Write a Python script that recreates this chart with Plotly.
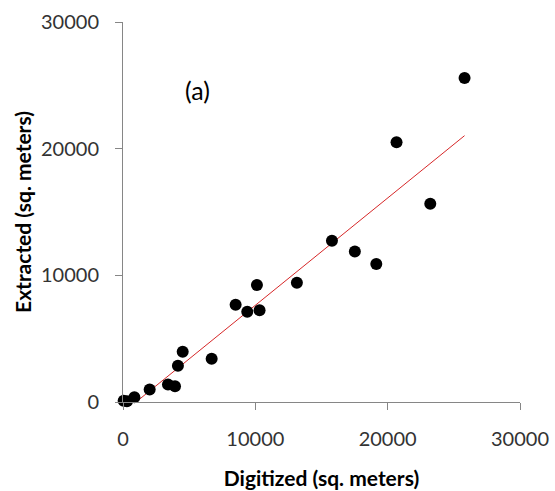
import numpy as np
import plotly.graph_objects as go

digitized = [50, 300, 860, 2015, 3400, 3930, 4150, 4510, 6700, 8510, 9390,
             10120, 10320, 13140, 15790, 17520, 19140, 20670, 23220, 25810]
extracted = [100, 50, 380, 990, 1380, 1250, 2860, 3970, 3410, 7680, 7120,
             9230, 7250, 9410, 12730, 11890, 10890, 20500, 15650, 25580]
tick_vals = [0, 10000, 20000, 30000]
tick_text = ["0", "10000", "20000", "30000"]

x = np.array(digitized, dtype=float)
y = np.array(extracted, dtype=float)
slope, intercept = np.polyfit(x, y, 1)
fx = np.array([x.min(), x.max()])
fy = slope * fx + intercept

font_family = "Lato, Carlito, 'Open Sans', sans-serif"
axis_color = "#868686"
text_color = "#333333"

fig = go.Figure()
fig.add_trace(go.Scatter(x=fx, y=fy, mode="lines",
                         line=dict(color="#d62728", width=1), hoverinfo="skip"))
fig.add_trace(go.Scatter(x=digitized, y=extracted, mode="markers",
                         marker=dict(color="black", size=12), cliponaxis=False))

fig.update_layout(
    width=555, height=491,
    margin=dict(l=123, r=35, t=22, b=89),
    plot_bgcolor="white", paper_bgcolor="white",
    showlegend=False,
    font=dict(family=font_family, size=20, color=text_color),
    annotations=[dict(x=5640, y=24600, xref="x", yref="y", text="(a)",
                      showarrow=False, font=dict(size=25, color="black"))],
)
fig.update_xaxes(range=[0, 30000], tickvals=tick_vals, ticktext=tick_text,
                 showgrid=False, zeroline=False, showline=True, automargin=False,
                 linecolor=axis_color, linewidth=1, ticks="outside",
                 ticklen=7, tickcolor=axis_color, ticklabelstandoff=12,
                 title=dict(text="<b>Digitized (sq. meters)</b>",
                            font=dict(size=21, color="black"), standoff=22))
fig.update_yaxes(range=[0, 30000], tickvals=tick_vals, ticktext=tick_text,
                 showgrid=False, zeroline=False, showline=True, automargin=False,
                 linecolor=axis_color, linewidth=1, ticks="outside",
                 ticklen=7, tickcolor=axis_color, ticklabelstandoff=12,
                 title=dict(text="<b>Extracted (sq. meters)</b>",
                            font=dict(size=21, color="black"), standoff=3))

fig.write_html("out.html")
